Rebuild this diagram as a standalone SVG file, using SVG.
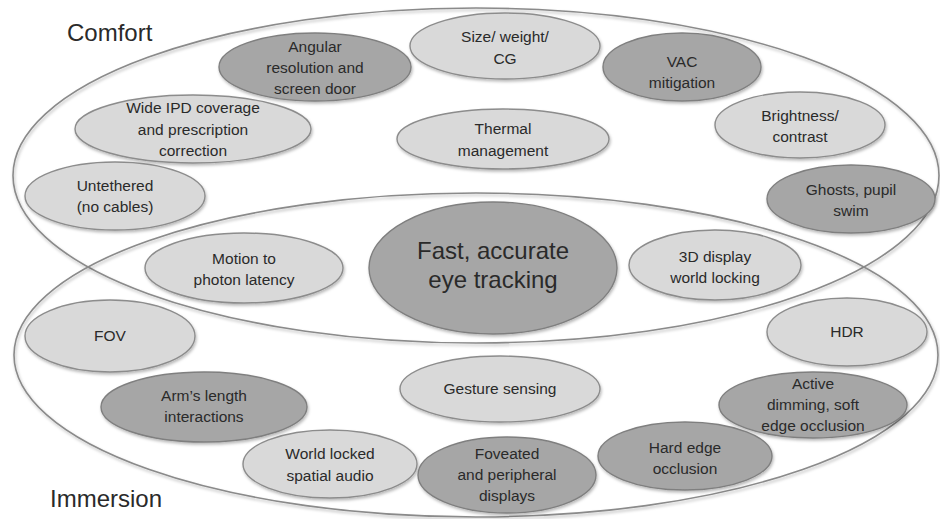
<svg xmlns="http://www.w3.org/2000/svg" width="940" height="519" viewBox="0 0 940 519">
  <defs>
    <filter id="shade" x="-10%" y="-10%" width="120%" height="130%">
      <feDropShadow dx="1" dy="2" stdDeviation="1.5" flood-color="#000" flood-opacity="0.28"/>
    </filter>
  </defs>
  <style>
    .group { fill: none; stroke: #8a8a8a; stroke-width: 1.6; }
    .light { fill: #d9d9d9; stroke: #8c8c8c; stroke-width: 1.4; filter: url(#shade); }
    .dark { fill: #a6a6a6; stroke: #7f7f7f; stroke-width: 1.4; filter: url(#shade); }
    text { font-family: "Liberation Sans", Arial, sans-serif; fill: #2a2a2a; text-anchor: middle; }
    .lbl { font-size: 15.5px; }
    .big { font-size: 24px; }
    .title { font-size: 24px; text-anchor: start; }
  </style>

  <!-- category outlines -->
  <g id="areas">
    <ellipse class="group" cx="476" cy="175.5" rx="463" ry="167.5" filter="url(#shade)"/>
    <ellipse class="group" cx="476" cy="355" rx="462" ry="162" filter="url(#shade)"/>
    <text class="title" x="67" y="41">Comfort</text>
    <text class="title" x="50" y="507">Immersion</text>
  </g>

  <g id="connectors"></g>

  <!-- comfort items -->
  <g id="angular">
    <ellipse class="dark" cx="315" cy="67" rx="96" ry="34"/>
    <text class="lbl"><tspan x="315" y="52">Angular</tspan><tspan x="315" y="73">resolution and</tspan><tspan x="315" y="94">screen door</tspan></text>
  </g>
  <g id="size">
    <ellipse class="light" cx="505" cy="46" rx="95" ry="33"/>
    <text class="lbl"><tspan x="505" y="42">Size/ weight/</tspan><tspan x="505" y="64">CG</tspan></text>
  </g>
  <g id="vac">
    <ellipse class="dark" cx="682" cy="67" rx="79" ry="34"/>
    <text class="lbl"><tspan x="682" y="67">VAC</tspan><tspan x="682" y="88">mitigation</tspan></text>
  </g>
  <g id="ipd">
    <ellipse class="light" cx="193" cy="129" rx="118" ry="34"/>
    <text class="lbl"><tspan x="193" y="113">Wide IPD coverage</tspan><tspan x="193" y="135">and prescription</tspan><tspan x="193" y="156">correction</tspan></text>
  </g>
  <g id="thermal">
    <ellipse class="light" cx="503" cy="139" rx="106" ry="30"/>
    <text class="lbl"><tspan x="503" y="134">Thermal</tspan><tspan x="503" y="156">management</tspan></text>
  </g>
  <g id="brightness">
    <ellipse class="light" cx="800" cy="125" rx="85" ry="33"/>
    <text class="lbl"><tspan x="800" y="121">Brightness/</tspan><tspan x="800" y="142">contrast</tspan></text>
  </g>
  <g id="untethered">
    <ellipse class="light" cx="115" cy="196" rx="90" ry="34"/>
    <text class="lbl"><tspan x="115" y="191">Untethered</tspan><tspan x="115" y="212">(no cables)</tspan></text>
  </g>
  <g id="ghosts">
    <ellipse class="dark" cx="851" cy="199" rx="84" ry="34"/>
    <text class="lbl"><tspan x="851" y="195">Ghosts, pupil</tspan><tspan x="851" y="216">swim</tspan></text>
  </g>

  <!-- shared items -->
  <g id="eye-tracking">
    <ellipse class="dark" cx="493" cy="268" rx="124" ry="66"/>
    <text class="big"><tspan x="493" y="259">Fast, accurate</tspan><tspan x="493" y="288">eye tracking</tspan></text>
  </g>
  <g id="latency">
    <ellipse class="light" cx="244" cy="268" rx="99" ry="35"/>
    <text class="lbl"><tspan x="244" y="264">Motion to</tspan><tspan x="244" y="285">photon latency</tspan></text>
  </g>
  <g id="world-locking">
    <ellipse class="light" cx="715" cy="265" rx="86" ry="35"/>
    <text class="lbl"><tspan x="715" y="262">3D display</tspan><tspan x="715" y="283">world locking</tspan></text>
  </g>

  <!-- immersion items -->
  <g id="fov">
    <ellipse class="light" cx="110" cy="336" rx="85" ry="36"/>
    <text class="lbl" x="110" y="341">FOV</text>
  </g>
  <g id="hdr">
    <ellipse class="light" cx="847" cy="332" rx="80" ry="34"/>
    <text class="lbl" x="847" y="337">HDR</text>
  </g>
  <g id="gesture">
    <ellipse class="light" cx="500" cy="389" rx="100" ry="33"/>
    <text class="lbl" x="500" y="394">Gesture sensing</text>
  </g>
  <g id="arms-length">
    <ellipse class="dark" cx="204" cy="407" rx="103" ry="35"/>
    <text class="lbl"><tspan x="204" y="401">Arm’s length</tspan><tspan x="204" y="422">interactions</tspan></text>
  </g>
  <g id="dimming">
    <ellipse class="dark" cx="813" cy="405" rx="94" ry="33"/>
    <text class="lbl"><tspan x="813" y="389">Active</tspan><tspan x="813" y="410">dimming, soft</tspan><tspan x="813" y="431">edge occlusion</tspan></text>
  </g>
  <g id="audio">
    <ellipse class="light" cx="330" cy="464" rx="87" ry="34"/>
    <text class="lbl"><tspan x="330" y="459">World locked</tspan><tspan x="330" y="481">spatial audio</tspan></text>
  </g>
  <g id="foveated">
    <ellipse class="dark" cx="507" cy="475" rx="89" ry="38"/>
    <text class="lbl"><tspan x="507" y="459">Foveated</tspan><tspan x="507" y="480">and peripheral</tspan><tspan x="507" y="501">displays</tspan></text>
  </g>
  <g id="hard-edge">
    <ellipse class="dark" cx="685" cy="456" rx="87" ry="34"/>
    <text class="lbl"><tspan x="685" y="453">Hard edge</tspan><tspan x="685" y="474">occlusion</tspan></text>
  </g>
</svg>
